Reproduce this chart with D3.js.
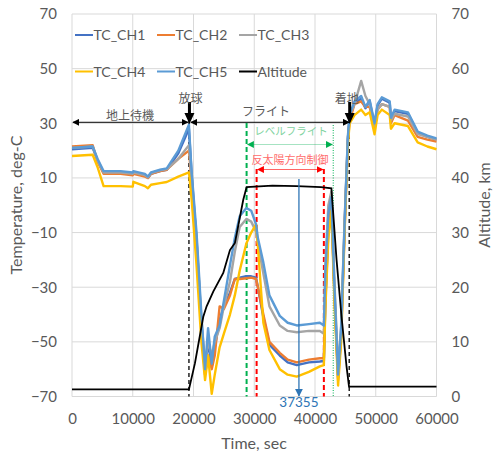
<!DOCTYPE html>
<html lang="ja">
<head>
<meta charset="UTF-8">
<title>TC channels and altitude</title>
<script src="https://cdn.jsdelivr.net/npm/d3@7"></script>
<style>
    body { margin: 0; background: #fff; }
    text { font-family: Lato, "Noto Sans", sans-serif; fill: #595959; }
    .jp { font-family: "Noto Sans CJK JP", sans-serif; }
    .grid line { stroke: #d9d9d9; stroke-width: 1; }
    .axis text { font-size: 15px; }
    .axis path, .axis line { display: none; }
</style>
</head>
<body>
<svg width="495" height="454"></svg>

<script>
    // time grid (s) shared by the TC channels
    var times = [0, 3400, 4200, 5200, 8000, 10000, 10100, 12000, 12500, 13000, 14500, 15600, 17500, 19250,
        19300, 19700, 20500, 21300, 21900, 22400, 23000, 23500, 24300, 25000, 26000, 26800, 27600, 28700,
        29500, 30300, 30600, 31500, 32500, 34200, 35500, 37000, 39000, 40800, 41460, 41700, 42200, 42700,
        43200, 43800, 44300, 44900, 45400, 45700, 46500, 47600, 48300, 49000, 49800, 50300, 51000, 52300,
        52500, 53100, 55300, 56900, 58500, 60000];

    var ch1 = [20.5, 21, 16.5, 12, 12, 11.5, 12, 11, 10, 11.5, 12.5, 13, 19, 28,
        26, 11, -13, -43, -61, -50, -59, -52, -42, -37, -32, -27, -26.5, -26,
        -26, -26.5, -30, -41, -51, -55, -57.5, -58.5, -57.5, -57.2, -57, -36, -9, 0,
        -32, -63, -47, -6, 24, 32, 37.5, 39, 35.5, 38, 29.5, 36.5, 39, 37.5,
        31.5, 34.5, 33.5, 26.5, 25, 24];
    var ch2 = [21.5, 22, 16, 11.5, 11.5, 11, 11.5, 10.5, 10, 11.5, 12.5, 13, 17, 20,
        19, 8, -15, -45, -62, -55, -60, -55, -37, -38, -33, -27, -27, -26.7,
        -26.5, -27, -30, -40, -50, -54, -56.5, -57.5, -56.5, -56, -56, -35, -8, 1,
        -33, -64, -48, -7, 23, 31, 37, 38, 36, 36, 28, 35, 37, 36,
        30, 33, 31, 25, 24, 23.3];
    var ch3 = [21, 21.5, 16.5, 12, 12, 11.5, 12, 11, 10.2, 11.8, 12.8, 13.2, 17, 22,
        21, 9, -12, -42, -58, -50, -55, -50, -45, -37, -28, -17, -8, -5,
        -6, -9.7, -14, -25, -37, -44, -46, -46.5, -46, -46, -47, -22, 0, 5,
        -28, -60, -44, -4, 24, 33, 37, 45.5, 40, 37, 29, 35, 37, 36,
        31, 33.5, 32.5, 26, 25, 24];
    var ch4 = [18, 18.5, 14, 7, 7, 6.8, 8.6, 7, 6.2, 7.5, 8.1, 8.5, 10.5, 12,
        11, 2, -22, -50, -64, -55, -69, -62, -52, -47, -40, -33, -24, -14,
        -10, -7, -15, -43, -53, -60, -62, -62.7, -61, -59, -58.5, -38, -12, -2,
        -35, -66, -50, -8, 22, 30, 33, 35, 33, 34, 26, 33, 35, 33,
        28, 30, 29, 23, 21.5, 20.5];
    var ch5 = [21, 21.5, 17, 12.5, 12.5, 12, 12.5, 11.5, 10.5, 12, 13, 13.5, 20, 29.5,
        27, 12, -10, -40, -60, -45, -58, -48, -44, -35, -22, -12, -4, -1,
        -2, -7, -12, -21, -33, -40.5, -43, -44, -43.5, -43, -44, -25, -3, 3,
        -30, -62, -45, -5, 25, 33, 38, 40, 36, 38.5, 30, 37, 39.5, 38,
        32, 35, 34, 27, 25.5, 24.5];

    // altitude (km)
    var altTimes = [0, 19250, 20240, 21610, 22160, 23250, 24900, 26000, 26820, 28190, 28740, 33000, 37000,
        41000, 42700, 43550, 44370, 45190, 45600, 52000, 60000];
    var altitude = [1.3, 1.3, 6.1, 14.6, 16.5, 19.2, 22.6, 26.8, 28.1, 36.0, 38.3, 38.6, 38.5,
        38.3, 38.1, 25, 14.6, 5.5, 1.8, 1.8, 1.8];

    var seriesNames = ["TC_CH1", "TC_CH2", "TC_CH3", "TC_CH4", "TC_CH5", "Altitude"];
    var seriesColors = ["#4472c4", "#ed7d31", "#a5a5a5", "#ffc000", "#5b9bd5", "#000000"];

    var xTicks = [0, 10000, 20000, 30000, 40000, 50000, 60000];
    var yTicks = [-70, -50, -30, -10, 10, 30, 50, 70];
    var altTicks = [0, 10, 20, 30, 40, 50, 60, 70];

    // event times (s)
    var tLaunch = 19250, tLand = 45630;
    var tLevelStart = 28740, tLevelEnd = 43000;
    var tCtrlStart = 30390, tCtrlEnd = 41460;
    var tMark = 37355;

    var svg = d3.select("svg");

    var x = d3.scaleLinear().domain([0, 60000]).range([72, 436.5]);
    var y = d3.scaleLinear().domain([-70, 70]).range([396.5, 14]);
    var yAlt = d3.scaleLinear().domain([0, 70]).range([396.5, 14]);

    // gridlines
    var grid = svg.append("g").attr("class", "grid");
    grid.selectAll("line.h").data(yTicks).enter().append("line")
        .attr("x1", x(0)).attr("x2", x(60000))
        .attr("y1", function (d) { return y(d); })
        .attr("y2", function (d) { return y(d); });
    grid.selectAll("line.v").data(xTicks).enter().append("line")
        .attr("y1", y(70)).attr("y2", y(-70))
        .attr("x1", function (d) { return x(d); })
        .attr("x2", function (d) { return x(d); });

    // axes
    svg.append("g").attr("class", "axis")
        .attr("transform", "translate(" + x(0) + ",0)")
        .call(d3.axisLeft(y).tickValues(yTicks).tickSize(0).tickPadding(15));
    svg.append("g").attr("class", "axis")
        .attr("transform", "translate(" + x(60000) + ",0)")
        .call(d3.axisRight(yAlt).tickValues(altTicks).tickSize(0).tickPadding(15));
    svg.append("g").attr("class", "axis")
        .attr("transform", "translate(0," + y(-70) + ")")
        .call(d3.axisBottom(x).tickValues(xTicks).tickSize(0).tickPadding(16.5).tickFormat(d3.format("d")));

    svg.append("text").attr("transform", "translate(22,205) rotate(-90)")
        .attr("text-anchor", "middle").attr("font-size", 16).text("Temperature, deg-C");
    svg.append("text").attr("transform", "translate(490,205) rotate(-90)")
        .attr("text-anchor", "middle").attr("font-size", 16).text("Altitude, km");
    svg.append("text").attr("x", 254).attr("y", 449)
        .attr("text-anchor", "middle").attr("font-size", 16).text("Time, sec");

    // markers
    var defs = svg.append("defs");
    function addMarker(id, color, size) {
        defs.append("marker").attr("id", id)
            .attr("viewBox", "0 0 10 10").attr("refX", 9).attr("refY", 5)
            .attr("markerWidth", size).attr("markerHeight", size)
            .attr("markerUnits", "userSpaceOnUse")
            .attr("orient", "auto-start-reverse")
            .append("path").attr("d", "M0,0L10,5L0,10z").attr("fill", color);
    }
    addMarker("arBlack", "#000", 7);
    addMarker("arGreen", "#00b050", 7);
    addMarker("arRed", "#ff0000", 7);
    addMarker("arBlue", "#2e75b6", 8);

    // event verticals
    var vlines = [
        {t: tLaunch, top: 121, color: "#000", dash: "4,3", w: 1.3},
        {t: tLand, top: 121, color: "#000", dash: "4,3", w: 1.3},
        {t: tLevelStart, top: 123, color: "#00b050", dash: "5,3", w: 2},
        {t: tLevelEnd, top: 125, color: "#00b050", dash: "1,1.5", w: 1},
        {t: tCtrlStart, top: 169, color: "#ff0000", dash: "5,3", w: 2},
        {t: tCtrlEnd, top: 169, color: "#ff0000", dash: "5,3", w: 2}
    ];
    svg.append("g").selectAll("line").data(vlines).enter().append("line")
        .attr("x1", function (d) { return x(d.t); })
        .attr("x2", function (d) { return x(d.t); })
        .attr("y1", function (d) { return d.top; })
        .attr("y2", y(-70))
        .attr("stroke", function (d) { return d.color; })
        .attr("stroke-width", function (d) { return d.w; })
        .attr("stroke-dasharray", function (d) { return d.dash; });

    // series lines
    var tcLine = d3.line()
        .x(function (d) { return x(d[0]); })
        .y(function (d) { return y(d[1]); });
    var channels = [ch1, ch2, ch3, ch4, ch5];
    var linesG = svg.append("g");
    channels.forEach(function (vals, i) {
        linesG.append("path")
            .datum(times.map(function (t, k) { return [t, vals[k]]; }))
            .attr("fill", "none")
            .attr("stroke", seriesColors[i])
            .attr("stroke-width", 2.4)
            .attr("stroke-linejoin", "round")
            .attr("d", tcLine);
    });
    var altLine = d3.line()
        .x(function (d) { return x(d[0]); })
        .y(function (d) { return yAlt(d[1]); });
    linesG.append("path")
        .datum(altTimes.map(function (t, k) { return [t, altitude[k]]; }))
        .attr("fill", "none")
        .attr("stroke", "#000")
        .attr("stroke-width", 1.8)
        .attr("d", altLine);

    // annotations: ground / flight arrows
    var ann = svg.append("g");
    var arrowY = y(30) - 1;
    ann.append("line").attr("x1", x(0) + 1).attr("x2", x(tLaunch) - 1)
        .attr("y1", arrowY).attr("y2", arrowY).attr("stroke", "#000").attr("stroke-width", 1)
        .attr("marker-start", "url(#arBlack)").attr("marker-end", "url(#arBlack)");
    ann.append("line").attr("x1", x(tLaunch) + 2).attr("x2", x(tLand))
        .attr("y1", arrowY).attr("y2", arrowY).attr("stroke", "#000").attr("stroke-width", 1)
        .attr("marker-start", "url(#arBlack)").attr("marker-end", "url(#arBlack)");
    ann.append("text").attr("class", "jp").attr("x", 130).attr("y", 120)
        .attr("text-anchor", "middle").attr("font-size", 12).text("地上待機");
    ann.append("text").attr("class", "jp").attr("x", 266).attr("y", 116)
        .attr("text-anchor", "middle").attr("font-size", 12).text("フライト");

    // block arrows for launch / landing
    [{t: tLaunch, label: "放球", dx: 1}, {t: tLand, label: "着地", dx: -3}].forEach(function (d) {
        var cx = x(d.t) + 0.5;
        ann.append("path")
            .attr("d", "M" + (cx - 1.5) + ",102 L" + (cx + 1.5) + ",102 L" + (cx + 1.5) + ",113 L" + (cx + 5) + ",113 L" +
                cx + ",124 L" + (cx - 5) + ",113 L" + (cx - 1.5) + ",113z")
            .attr("fill", "#000");
        ann.append("text").attr("class", "jp").attr("x", cx + d.dx).attr("y", 103)
            .attr("text-anchor", "middle").attr("font-size", 12).text(d.label);
    });

    // level flight
    ann.append("line").attr("x1", x(tLevelStart) + 1).attr("x2", x(tLevelEnd) - 1)
        .attr("y1", 144.5).attr("y2", 144.5).attr("stroke", "#00b050").attr("stroke-opacity", 0.35)
        .attr("stroke-width", 1)
        .attr("marker-start", "url(#arGreen)").attr("marker-end", "url(#arGreen)");
    ann.append("text").attr("class", "jp").attr("x", 291).attr("y", 135)
        .attr("text-anchor", "middle").attr("font-size", 10.5).style("fill", "#7fd3a0")
        .text("レベルフライト");

    // anti-sun control
    ann.append("line").attr("x1", x(tCtrlStart) + 1).attr("x2", x(tCtrlEnd) - 1)
        .attr("y1", 169.5).attr("y2", 169.5).attr("stroke", "#ff0000").attr("stroke-opacity", 0.6)
        .attr("stroke-width", 1)
        .attr("marker-start", "url(#arRed)").attr("marker-end", "url(#arRed)");
    ann.append("text").attr("class", "jp").attr("x", 290).attr("y", 164)
        .attr("text-anchor", "middle").attr("font-size", 11).style("fill", "#ff6b6b")
        .text("反太陽方向制御");

    // marker time
    ann.append("line").attr("x1", x(tMark)).attr("x2", x(tMark))
        .attr("y1", 179).attr("y2", y(-70) - 0.5)
        .attr("stroke", "#2e75b6").attr("stroke-width", 1.3)
        .attr("marker-end", "url(#arBlue)");
    ann.append("text").attr("x", x(tMark)).attr("y", 407)
        .attr("text-anchor", "middle").attr("font-size", 13.5).style("fill", "#2e75b6")
        .text(String(tMark));

    // legend
    var legend = svg.append("g");
    seriesNames.forEach(function (name, i) {
        var lx = 75 + (i % 3) * 82, ly = (i < 3) ? 35 : 71.5;
        legend.append("line").attr("x1", lx).attr("x2", lx + 18)
            .attr("y1", ly).attr("y2", ly)
            .attr("stroke", seriesColors[i]).attr("stroke-width", 2);
        legend.append("text").attr("x", lx + 18.5).attr("y", ly + 5)
            .attr("font-size", 14).text(name);
    });
</script>
</body>
</html>
